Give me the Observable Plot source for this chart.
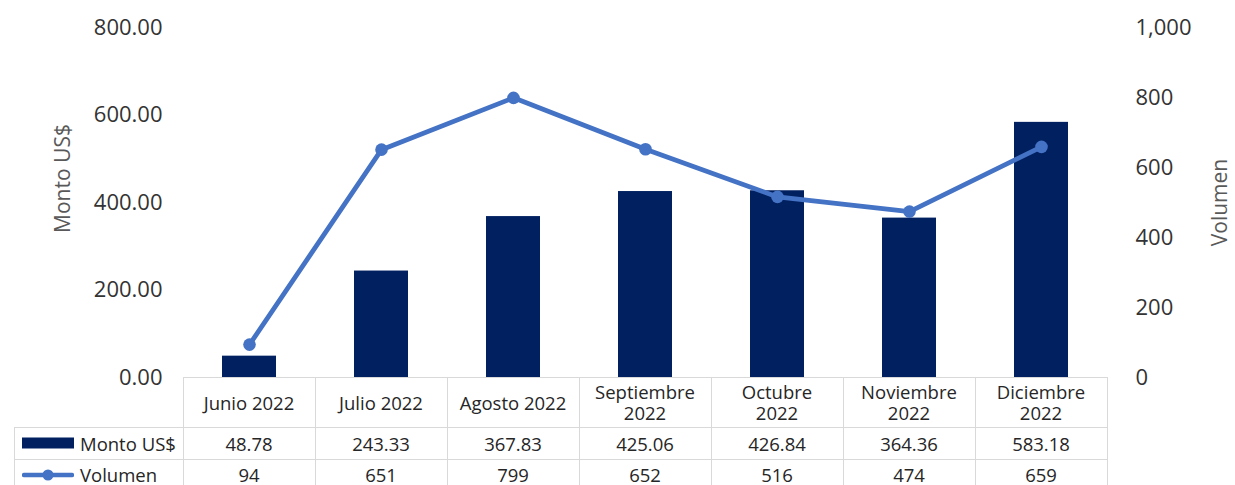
<!DOCTYPE html>
<html>
<head>
<meta charset="utf-8">
<script src="https://cdn.jsdelivr.net/npm/d3@7"></script>
<script src="https://cdn.jsdelivr.net/npm/@observablehq/plot@0.6"></script>
<style>
  body { margin: 0; background: #fff; }
  #wrap { position: relative; width: 1235px; height: 485px; overflow: hidden; font-family: "Open Sans", sans-serif; }
  #wrap > svg { position: absolute; left: 0; top: 0; }
  .cell { position: absolute; box-sizing: border-box; display: flex; align-items: center; justify-content: center;
          text-align: center; font-size: 18.5px; line-height: 21px; color: #262626; white-space: nowrap; }
  .hl { position: absolute; background: #d9d9d9; height: 1px; }
  .vl { position: absolute; background: #d9d9d9; width: 1px; }
  .sw { flex: none; margin-right: 6px; display: block; }
</style>
</head>
<body>
<div id="wrap"></div>
<script>
const categories = ["Junio 2022", "Julio 2022", "Agosto 2022", "Septiembre 2022", "Octubre 2022", "Noviembre 2022", "Diciembre 2022"];
const headerLabels = [["Junio 2022"], ["Julio 2022"], ["Agosto 2022"], ["Septiembre", "2022"], ["Octubre", "2022"], ["Noviembre", "2022"], ["Diciembre", "2022"]];
const monto = [48.78, 243.33, 367.83, 425.06, 426.84, 364.36, 583.18];
const volumen = [94, 651, 799, 652, 516, 474, 659];
const leftTicks = [0, 200, 400, 600, 800];
const rightTicks = [0, 200, 400, 600, 800, 1000];
const seriesNames = ["Monto US$", "Volumen"];

const k = 800 / 1000; // right axis (0–1000) mapped onto left scale (0–800)
const data = categories.map((c, i) => ({cat: c, monto: monto[i], vol: volumen[i]}));

const barColor = "#002060";
const lineColor = "#4472c4";

const chart = Plot.plot({
  width: 1235, height: 485,
  marginTop: 27, marginBottom: 108, marginLeft: 182, marginRight: 126,
  style: {fontFamily: "Open Sans, sans-serif", fontSize: "22px", color: "#333333", background: "transparent"},
  x: {domain: categories, paddingInner: 0.59, paddingOuter: 0.295, axis: null},
  y: {domain: [0, 800], axis: null},
  marks: [
    Plot.axisY(leftTicks, {anchor: "left", tickSize: 0, tickPadding: 20, label: null, tickFormat: d => d3.format(".2f")(d)}),
    Plot.axisY(rightTicks.map(v => v * k), {anchor: "right", tickSize: 0, tickPadding: 26, label: null, tickFormat: d => d3.format(",")(Math.round(d / k))}),
    Plot.barY(data, {x: "cat", y: "monto", fill: barColor}),
    Plot.line(data, {x: "cat", y: d => d.vol * k, stroke: lineColor, strokeWidth: 4.8}),
    Plot.dot(data, {x: "cat", y: d => d.vol * k, r: 6.3, fill: lineColor}),
    Plot.text([seriesNames[0]], {text: d => d, frameAnchor: "left", textAnchor: "middle", lineAnchor: "middle", dx: -119, dy: -24, rotate: -90, fill: "#595959", fontSize: 21}),
    Plot.text([seriesNames[1]], {text: d => d, frameAnchor: "right", textAnchor: "middle", lineAnchor: "middle", dx: 111, rotate: -90, fill: "#595959", fontSize: 21})
  ]
});

const wrap = document.getElementById("wrap");
wrap.appendChild(chart);

// Data table aligned to the chart's x scale
const xs = chart.scale("x");
const gap = xs.step - xs.bandwidth;
const colLeft = categories.map(c => xs.apply(c) - gap / 2);
const tableLeft = 14;
const firstCol = colLeft[0];
const lastRight = colLeft[colLeft.length - 1] + xs.step;
const rows = [377, 427, 459, 491];
const lastRowH = 32; // volumen row box, text centred near y=475

function addDiv(cls, style, html) {
  const d = document.createElement("div");
  d.className = cls;
  Object.assign(d.style, style);
  if (html !== undefined) d.innerHTML = html;
  wrap.appendChild(d);
  return d;
}

// horizontal lines
addDiv("hl", {left: firstCol + "px", top: rows[0] + "px", width: (lastRight - firstCol + 1) + "px"});
for (let r = 1; r < rows.length; r++) {
  addDiv("hl", {left: tableLeft + "px", top: rows[r] + "px", width: (lastRight - tableLeft + 1) + "px"});
}
// vertical lines
addDiv("vl", {left: tableLeft + "px", top: rows[1] + "px", height: (rows[3] - rows[1]) + "px"});
colLeft.forEach(x0 => addDiv("vl", {left: x0 + "px", top: rows[0] + "px", height: (rows[3] - rows[0]) + "px"}));
addDiv("vl", {left: lastRight + "px", top: rows[0] + "px", height: (rows[3] - rows[0]) + "px"});

// cells
categories.forEach((c, i) => {
  addDiv("cell", {left: colLeft[i] + "px", top: rows[0] + "px", width: xs.step + "px", height: (rows[1] - rows[0]) + "px"},
    headerLabels[i].join("<br>"));
  addDiv("cell", {left: colLeft[i] + "px", top: rows[1] + "px", width: xs.step + "px", height: (rows[2] - rows[1]) + "px"},
    d3.format(".2f")(monto[i]));
  addDiv("cell", {left: colLeft[i] + "px", top: (rows[2] + 6) + "px", width: xs.step + "px", height: "20px", lineHeight: "20px"},
    d3.format("d")(volumen[i]));
});

// legend cells
addDiv("cell", {left: tableLeft + "px", top: rows[1] + "px", width: (firstCol - tableLeft) + "px", height: (rows[2] - rows[1]) + "px", justifyContent: "flex-start", paddingLeft: "8px"},
  `<svg class="sw" width="52" height="12"><rect x="0" y="0.5" width="52" height="11" fill="${barColor}"/></svg><span>${seriesNames[0]}</span>`);
addDiv("cell", {left: tableLeft + "px", top: (rows[2] + 6) + "px", width: (firstCol - tableLeft) + "px", height: "20px", lineHeight: "20px", justifyContent: "flex-start", paddingLeft: "8px"},
  `<svg class="sw" width="52" height="14"><line x1="2" x2="50" y1="7" y2="7" stroke="${lineColor}" stroke-width="4.5" stroke-linecap="round"/><circle cx="26" cy="7" r="5.5" fill="${lineColor}"/></svg><span>${seriesNames[1]}</span>`);
</script>
</body>
</html>
